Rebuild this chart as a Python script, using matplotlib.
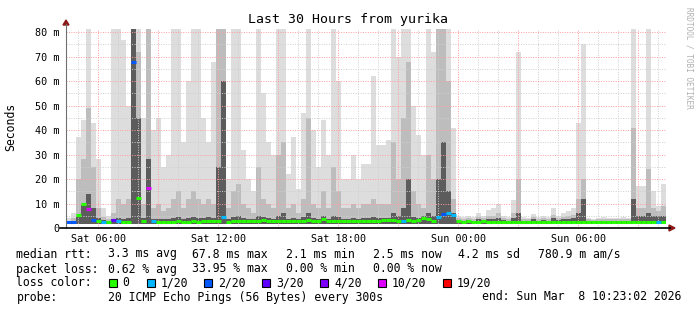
import datetime as dt
import numpy as np
import matplotlib
matplotlib.use("Agg")
import matplotlib.pyplot as plt
from matplotlib.lines import Line2D
from matplotlib.patches import Rectangle, Polygon

W, H = 697, 310
MONO = "DejaVu Sans Mono"

end_time = dt.datetime(2026, 3, 8, 10, 23, 2)
hours_shown = 30
bin_minutes = 15

# smoke levels (ms), one value per 15 minute bin
smoke_top = [4, 6, 37, 44, 82, 43, 28, 8, 5, 82, 82, 77, 50, 82, 82, 45, 82, 40, 45, 25,
             30, 82, 82, 35, 60, 82, 82, 45, 35, 68,
             82, 82, 20, 82, 82, 32, 20, 15, 82, 55, 35, 30, 82, 82, 22, 37, 16, 47, 82, 40,
             25, 44, 30, 82, 60, 20, 20, 30, 20, 26,
             26, 62, 34, 34, 36, 82, 70, 82, 82, 50, 38, 30, 82, 72, 82, 82, 82, 41, 5, 4.5,
             5, 4.5, 6, 5, 7.5, 8, 10, 5, 4.5, 11.5,
             72, 4.5, 4, 5.6, 4.5, 5, 4.5, 8, 5, 6, 7, 8, 43, 75, 4, 3.5, 4, 4.5, 4, 4,
             4, 4.5, 4, 82, 17, 17, 82, 15, 9, 18]
smoke_mid = [3, 4, 20, 28, 49, 25, 8, 4.5, 3.5, 6, 12, 10, 12, 82, 72, 10, 82, 8, 10, 7,
             8, 12, 15, 8, 12, 15, 12, 10, 12, 10,
             82, 82, 8, 15, 18, 10, 8, 6, 25, 12, 10, 8, 30, 35, 8, 10, 6, 12, 45, 10,
             8, 15, 8, 25, 15, 8, 8, 10, 8, 10,
             10, 12, 10, 10, 10, 35, 20, 45, 68, 15, 10, 8, 30, 20, 82, 82, 60, 12, 4, 3.8,
             4, 3.8, 4.5, 4, 5, 5, 6, 4, 3.8, 6,
             20, 3.8, 3.5, 4.5, 3.8, 4, 3.8, 5.5, 4, 4.5, 5, 5.5, 12, 20, 3.5, 3.2, 3.5, 3.8, 3.5, 3.5,
             3.5, 3.8, 3.5, 41, 8, 8, 24, 8, 7, 9]
smoke_dark = [2.5, 3, 5, 10, 14, 8, 4, 3.2, 2.8, 3.8, 4, 3.5, 4, 82, 45, 4, 28, 3.8, 3.5, 3.5,
              3.5, 4, 4.5, 3.5, 4, 4.5, 4, 4, 4.5, 4,
              25, 60, 3.5, 4.5, 5, 4, 3.5, 3.5, 5, 4.5, 4, 3.5, 5, 6, 3.5, 4, 3.5, 4.5, 6, 4,
              3.5, 5, 3.5, 5, 4.5, 3.5, 3.5, 4, 3.5, 4,
              4, 4.5, 4, 4, 4, 6, 5, 8, 20, 4.5, 4, 5, 6, 5, 20, 35, 15, 6, 3.2, 3,
              3.2, 3, 3.5, 3.2, 3.5, 3.5, 4, 3.2, 3, 4,
              6, 3, 2.9, 3.5, 3, 3.2, 3, 4, 3.2, 3.5, 3.8, 4, 6, 12, 2.9, 2.8, 2.9, 3, 2.9, 2.9,
              2.9, 3, 2.9, 12, 5, 5, 6, 5, 5, 5]
median_ms = [2.3, 2.4, 5.3, 10, 7.9, 3.4, 3, 2.5, 2.4, 3.2, 2.8, 2.5, 2.6, 67.8, 12.4, 3, 16.5, 3, 2.6, 2.5,
             2.5, 2.6, 2.7, 2.5, 2.6, 2.8, 2.6, 2.7, 3, 2.8,
             3, 4.5, 2.6, 2.8, 2.7, 3, 2.9, 2.7, 2.8, 3.1, 2.9, 2.8, 2.7, 3, 2.9, 2.8, 3, 2.9, 3.2, 2.8,
             2.7, 3.5, 2.9, 2.8, 3, 2.9, 2.7, 3, 2.8, 2.9,
             2.8, 2.9, 3, 3.2, 3.2, 3.1, 2.9, 3, 3.1, 2.9, 3.3, 4.2, 3.6, 3, 4.5, 5.9, 6.2, 5.3, 2.8, 2.6,
             2.7, 2.6, 2.5, 2.7, 2.6, 2.5, 2.6, 2.5, 2.6, 2.6,
             2.6, 2.5, 2.6, 2.5, 2.6, 2.5, 2.6, 2.6, 2.5, 2.6, 2.5, 2.6, 2.6, 2.5, 2.6, 2.5, 2.5, 2.6, 2.5, 2.6,
             2.5, 2.6, 2.5, 2.6, 2.6, 2.5, 2.6, 2.6, 2.5, 2.5]
loss_level = [2, 2, 0, 0, 5, 2, 0, 1, 0, 3, 1, 0, 0, 2, 0, 0, 5, 1, 0, 0,
              0, 0, 0, 0, 0, 0, 0, 0, 0, 0,
              0, 1, 0, 0, 0, 0, 0, 0, 0, 0, 0, 0, 0, 0, 0, 0, 0, 0, 0, 0,
              0, 0, 0, 0, 0, 0, 0, 0, 0, 0,
              0, 0, 0, 0, 0, 0, 0, 1, 0, 0, 0, 0, 0, 0, 1, 2, 1, 1, 0, 0,
              0, 0, 0, 0, 0, 0, 0, 0, 0, 0,
              0, 0, 0, 0, 0, 0, 0, 0, 0, 0, 0, 0, 0, 0, 0, 0, 0, 0, 0, 0,
              0, 0, 0, 0, 0, 0, 0, 0, 1, 0]
ping_floor = 1.5

loss_colors = ["#26ff00", "#00b8ff", "#0059ff", "#5e00ff", "#7e00ff", "#dd00ff", "#ff0000"]
loss_labels = ["0", "1/20", "2/20", "3/20", "4/20", "10/20", "19/20"]
y_ticks = [0, 10, 20, 30, 40, 50, 60, 70, 80]


def px(x, y):
    return x / W, 1 - y / H


fig = plt.figure(figsize=(W / 100, H / 100), dpi=100)
fig.patch.set_facecolor("white")
ax = fig.add_axes([66 / W, (H - 228) / H, 600 / W, 199.5 / H])
ax.set_xlim(0, hours_shown)
ax.set_ylim(0, 81.5)
for s in ax.spines.values():
    s.set_visible(False)

edges = np.arange(len(smoke_top) + 1) * bin_minutes / 60.0
ax.stairs(smoke_top, edges, baseline=ping_floor, fill=True, color="#dddddd", zorder=1)
ax.stairs(smoke_mid, edges, baseline=ping_floor, fill=True, color="#bdbdbd", zorder=2)
ax.stairs(smoke_dark, edges, baseline=ping_floor, fill=True, color="#5c5c5c", zorder=3)

# grid, drawn over the smoke like rrdtool does
start = end_time - dt.timedelta(hours=hours_shown)
first = start.replace(minute=0, second=0) + dt.timedelta(hours=1)
t = first
while t < end_time:
    h = (t - start).total_seconds() / 3600
    col = "#ff9c9c" if t.hour % 3 == 0 else "#cfcfcf"
    ax.axvline(h, color=col, lw=0.7, ls=(0, (1, 1.5)), zorder=4)
    t += dt.timedelta(hours=1)
for v in range(5, 85, 5):
    col = "#ff9c9c" if v % 10 == 0 else "#cfcfcf"
    ax.axhline(v, color=col, lw=0.7, ls=(0, (1, 1.5)), zorder=4)

# median, one short segment per bin coloured by loss
ax.hlines(median_ms, edges[:-1], edges[1:], colors=[loss_colors[lv] for lv in loss_level],
          lw=2.2, zorder=5)

# ticks
ticks, labels = [], []
t = start.replace(minute=0, second=0)
while t < end_time:
    if t > start and t.hour % 6 == 0:
        ticks.append((t - start).total_seconds() / 3600)
        labels.append(t.strftime("%a %H:%M"))
    t += dt.timedelta(hours=1)
ax.set_xticks(ticks)
ax.set_xticklabels(labels, fontfamily=MONO, fontsize=7.3)
ax.set_yticks(y_ticks)
ax.set_yticklabels(["0"] + ["%d m" % v for v in y_ticks[1:]], fontfamily=MONO, fontsize=7.3)
ax.tick_params(axis="both", length=0)
ax.tick_params(axis="y", pad=5)
ax.tick_params(axis="x", pad=4)

# axis lines with arrows
fig.add_artist(Line2D(*zip(px(66, 228), px(66, 24)), color="#707070", lw=0.8))
fig.add_artist(Line2D(*zip(px(60, 228), px(670, 228)), color="black", lw=1.2))
fig.add_artist(Polygon([px(63, 25), px(69, 25), px(66, 20)], closed=True, color="#8b1a1a"))
fig.add_artist(Polygon([px(669, 225), px(669, 231), px(675, 228)], closed=True, color="#8b1a1a"))

fig.text(*px(348.5, 19), "Last 30 Hours from yurika", ha="center", va="center",
         fontfamily=MONO, fontsize=9.5)
fig.text(*px(11, 127), "Seconds", rotation=90, ha="center", va="center",
         fontfamily=MONO, fontsize=8.3)
fig.text(*px(689, 58), "RRDTOOL / TOBI OETIKER", rotation=270, ha="center", va="center",
         fontfamily=MONO, fontsize=5.6, color="#b0b0b0")

# legend block
rows = [
    (254, [(16.5, "median rtt:"), (107.5, "3.3 ms avg"), (192.5, "67.8 ms max"),
           (286, "2.1 ms min"), (373, "2.5 ms now"), (458.3, "4.2 ms sd"), (537.6, "780.9 m am/s")]),
    (269, [(16.5, "packet loss:"), (107.5, "0.62 % avg"), (192.5, "33.95 % max"),
           (286, "0.00 % min"), (373, "0.00 % now")]),
    (283, [(16.5, "loss color:")]),
    (297, [(16.5, "probe:"), (107.5, "20 ICMP Echo Pings (56 Bytes) every 300s")]),
]
for y, items in rows:
    for x, s in items:
        fig.text(*px(x, y), s, ha="left", va="center", fontfamily=MONO, fontsize=8.3)
fig.text(*px(681, 297), "end: Sun Mar  8 10:23:02 2026", ha="right", va="center",
         fontfamily=MONO, fontsize=8.3)

box_x = [108.6, 146.5, 204.4, 262.3, 320.2, 378.1, 442.7]
for bx, col, lab in zip(box_x, loss_colors, loss_labels):
    x0, y0 = px(bx, 287)
    fig.add_artist(Rectangle((x0, y0), 8 / W, 8 / H, facecolor=col, edgecolor="black", lw=0.8))
    fig.text(*px(bx + 14, 283), lab, ha="left", va="center", fontfamily=MONO, fontsize=8.3)

fig.savefig("out.png", dpi=100)
